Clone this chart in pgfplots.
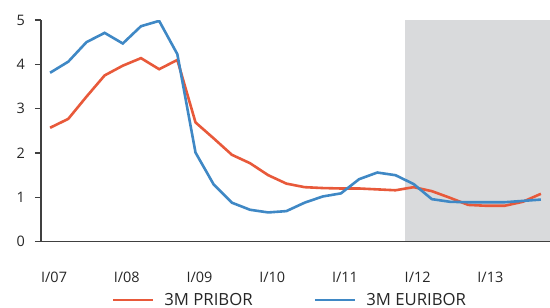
\documentclass[border=0pt]{standalone}
\usepackage{fontspec}
\setmainfont{Open Sans}
\usepackage{pgfplots}
\pgfplotsset{compat=1.18}
\definecolor{pribor}{HTML}{E8593A}
\definecolor{euribor}{HTML}{3F88C5}
\definecolor{shade}{HTML}{D9DADC}
\definecolor{axgray}{HTML}{404040}
\begin{document}
\begin{tikzpicture}
\begin{axis}[
  scale only axis,
  width=509bp, height=221.7bp,
  xmin=-0.5, xmax=27.5, ymin=0, ymax=5,
  axis x line*=bottom, axis y line*=left,
  axis line style={axgray, line width=1.3bp},
  axis on top,
  ytick={0,1,2,3,4,5},
  xtick={0,4,8,12,16,20,24},
  xticklabels={I/07,I/08,I/09,I/10,I/11,I/12,I/13},
  tick align=outside,
  major x tick style={draw=none},
  major y tick style={axgray, line width=1.3bp},
  major tick length=6bp,
  /pgf/number format/assume math mode=true,
  tick label style={font=\fontsize{14.5}{16}\selectfont, text=black!85, inner sep=0pt},
  yticklabel style={anchor=east, xshift=-10bp},
  xticklabel style={anchor=base, yshift=-34.3bp, xshift=4bp},
  legend style={at={(0.487,-0.263)}, anchor=center, draw=none, fill=none,
    legend columns=2, font=\fontsize{16.8}{18}\selectfont, text=black!85,
    nodes={inner sep=0pt},
    /tikz/every odd column/.append style={column sep=10bp},
    /tikz/every even column/.append style={column sep=61bp}},
  legend image code/.code={\draw[#1] (0bp,0bp) -- (40bp,0bp);},
  legend cell align=left,
]
\addplot[fill=shade, draw=none, forget plot] coordinates {(19.5,0) (19.5,5) (27.5,5) (27.5,0)} -- cycle;
\addplot[pribor, line width=2.6bp] coordinates {
(0,2.57)(1,2.77)(2,3.27)(3,3.75)(4,3.97)(5,4.14)(6,3.89)(7,4.10)
(8,2.69)(9,2.33)(10,1.96)(11,1.77)(12,1.50)(13,1.31)(14,1.23)(15,1.21)
(16,1.20)(17,1.20)(18,1.18)(19,1.16)(20,1.23)(21,1.14)(22,0.99)(23,0.83)
(24,0.81)(25,0.81)(26,0.90)(27,1.08)};
\addlegendentry{3M PRIBOR}
\addplot[euribor, line width=2.6bp] coordinates {
(0,3.81)(1,4.06)(2,4.50)(3,4.71)(4,4.47)(5,4.86)(6,4.98)(7,4.23)
(8,2.01)(9,1.29)(10,0.88)(11,0.72)(12,0.66)(13,0.69)(14,0.88)(15,1.02)
(16,1.09)(17,1.41)(18,1.56)(19,1.50)(20,1.30)(21,0.96)(22,0.90)(23,0.89)
(24,0.89)(25,0.89)(26,0.92)(27,0.95)};
\addlegendentry{3M EURIBOR}
\end{axis}
\pgfresetboundingbox
\path (current axis.south west) ++(-41bp,-66.3bp) rectangle ++(550bp,308bp);
\end{tikzpicture}
\end{document}
